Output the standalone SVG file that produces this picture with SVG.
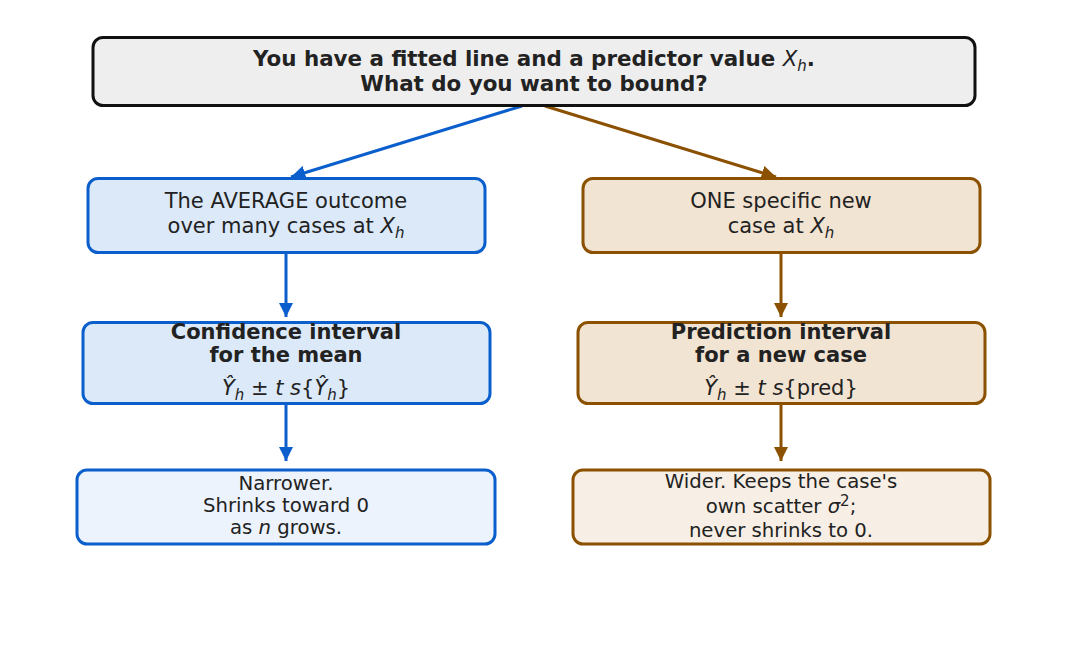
<svg xmlns="http://www.w3.org/2000/svg" width="1068" height="663" viewBox="0 0 1068 663">
<style>
text{font-family:"DejaVu Sans","Noto Sans",sans-serif;fill:#222;text-anchor:middle}
.t{font-size:21px}
.tt{font-size:21.4px}
.b{font-weight:bold}
.s{font-size:19.7px}
.i{font-style:italic}
.sub{font-size:15px}
.box{stroke-width:3}
.blue{stroke:#0b5fcc}
.brown{stroke:#8b5100}
.cb{stroke:#0b5fcc;stroke-width:3;fill:none}
.cr{stroke:#8b5100;stroke-width:3;fill:none}
</style>
<defs>
<marker id="ab" viewBox="0 0 10 10" refX="10" refY="5" markerWidth="4.8" markerHeight="4.8" orient="auto" markerUnits="strokeWidth"><path d="M0,0L10,5L0,10z" fill="#0b5fcc"/></marker>
<marker id="ar" viewBox="0 0 10 10" refX="10" refY="5" markerWidth="4.8" markerHeight="4.8" orient="auto" markerUnits="strokeWidth"><path d="M0,0L10,5L0,10z" fill="#8b5100"/></marker>
</defs>
<rect width="1068" height="663" fill="#fff"/>
<g id="connectors">
<line class="cb" x1="522" y1="106" x2="291" y2="177" marker-end="url(#ab)"/>
<line class="cr" x1="545" y1="106" x2="776" y2="177" marker-end="url(#ar)"/>
<line class="cb" x1="286" y1="254" x2="286" y2="317" marker-end="url(#ab)"/>
<line class="cr" x1="781" y1="254" x2="781" y2="317" marker-end="url(#ar)"/>
<line class="cb" x1="286" y1="404" x2="286" y2="461" marker-end="url(#ab)"/>
<line class="cr" x1="781" y1="404" x2="781" y2="461" marker-end="url(#ar)"/>
</g>
<g id="top">
<rect x="93" y="37.5" width="882" height="68" rx="10" fill="#eeeeee" stroke="#111" stroke-width="3"/>
<text class="tt b" x="534" y="66">You have a fitted line and a predictor value <tspan class="i" font-weight="normal">X</tspan><tspan class="sub i" font-weight="normal" dy="5">h</tspan><tspan dy="-5">.</tspan></text>
<text class="tt b" x="534" y="91">What do you want to bound?</text>
</g>
<g id="avg">
<rect x="88" y="178.5" width="397" height="74" rx="10" fill="#dbe9f9" class="box blue"/>
<text class="t" x="286" y="208">The AVERAGE outcome</text>
<text class="t" x="286" y="233">over many cases at <tspan class="i">X</tspan><tspan class="sub i" dy="5">h</tspan></text>
</g>
<g id="one">
<rect x="583" y="178.5" width="397" height="74" rx="10" fill="#f2e4d2" class="box brown"/>
<text class="t" x="781" y="208">ONE specific new</text>
<text class="t" x="781" y="233">case at <tspan class="i">X</tspan><tspan class="sub i" dy="5">h</tspan></text>
</g>
<g id="ci">
<rect x="83" y="322.5" width="407" height="81" rx="10" fill="#dbe9f9" class="box blue"/>
<text class="t b" x="286" y="339">Confidence interval</text>
<text class="t b" x="286" y="362">for the mean</text>
<text class="t" x="286" y="395"><tspan class="i">Ŷ</tspan><tspan class="sub i" dy="5">h</tspan><tspan dy="-5"> ± </tspan><tspan class="i">t s</tspan>{<tspan class="i">Ŷ</tspan><tspan class="sub i" dy="5">h</tspan><tspan dy="-5">}</tspan></text>
</g>
<g id="pi">
<rect x="578" y="322.5" width="407" height="81" rx="10" fill="#f2e4d2" class="box brown"/>
<text class="t b" x="781" y="339">Prediction interval</text>
<text class="t b" x="781" y="362">for a new case</text>
<text class="t" x="781" y="395"><tspan class="i">Ŷ</tspan><tspan class="sub i" dy="5">h</tspan><tspan dy="-5"> ± </tspan><tspan class="i">t s</tspan>{pred}</text>
</g>
<g id="narrow">
<rect x="77" y="470" width="418" height="74" rx="10" fill="#ecf3fc" class="box blue"/>
<text class="s" x="286" y="490">Narrower.</text>
<text class="s" x="286" y="512">Shrinks toward 0</text>
<text class="s" x="286" y="534">as <tspan class="i">n</tspan> grows.</text>
</g>
<g id="wide">
<rect x="573" y="470" width="417" height="74" rx="10" fill="#f7efe5" class="box brown"/>
<text class="s" x="781" y="488">Wider. Keeps the case's</text>
<text class="s" x="781" y="513">own scatter <tspan class="i">σ</tspan><tspan class="sub" dy="-7">2</tspan><tspan dy="7">;</tspan></text>
<text class="s" x="781" y="537">never shrinks to 0.</text>
</g>
</svg>
